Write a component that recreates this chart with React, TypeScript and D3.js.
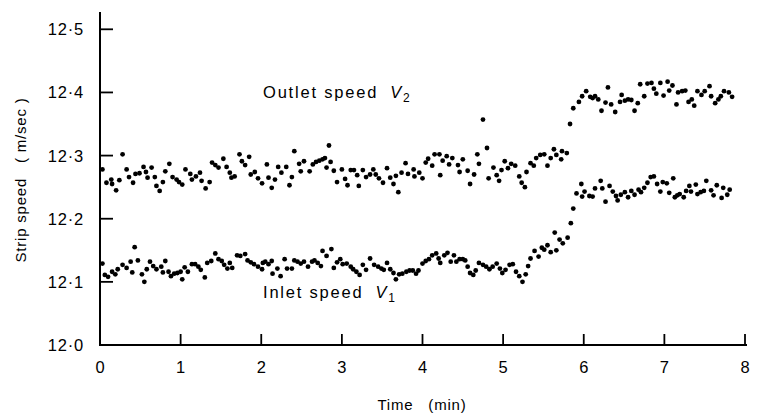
import React from "react";
import * as d3 from "d3";

// Outlet speed V2 (m/sec) against time (min)
const outletTime = [
  0.03, 0.08, 0.14, 0.15, 0.20, 0.24, 0.28, 0.33, 0.36, 0.41, 0.44, 0.49, 0.54, 0.57, 0.59, 0.64, 0.68, 0.70, 0.74, 0.78,
  0.81, 0.86, 0.90, 0.95, 0.98, 1.02, 1.06, 1.12, 1.14, 1.19, 1.24, 1.26, 1.31, 1.36, 1.39, 1.43, 1.47, 1.53, 1.57, 1.61,
  1.63, 1.67, 1.73, 1.76, 1.80, 1.85, 1.87, 1.92, 1.96, 2.01, 2.07, 2.09, 2.13, 2.17, 2.21, 2.25, 2.31, 2.35, 2.38, 2.41,
  2.47, 2.49, 2.53, 2.60, 2.64, 2.68, 2.72, 2.76, 2.79, 2.81, 2.84, 2.86, 2.90, 2.94, 3.00, 3.04, 3.07, 3.11, 3.15, 3.19,
  3.21, 3.26, 3.30, 3.35, 3.39, 3.42, 3.46, 3.51, 3.56, 3.60, 3.64, 3.67, 3.70, 3.74, 3.79, 3.82, 3.89, 3.90, 3.96, 4.00,
  4.04, 4.07, 4.12, 4.15, 4.21, 4.22, 4.25, 4.30, 4.33, 4.37, 4.44, 4.46, 4.50, 4.56, 4.59, 4.64, 4.68, 4.70, 4.75, 4.80,
  4.82, 4.88, 4.92, 4.95, 4.98, 5.02, 5.06, 5.10, 5.15, 5.20, 5.23, 5.27, 5.29, 5.34, 5.38, 5.41, 5.46, 5.51, 5.55, 5.59,
  5.63, 5.66, 5.72, 5.73, 5.79, 5.83, 5.87, 5.94, 5.98, 6.03, 6.08, 6.11, 6.14, 6.18, 6.22, 6.27, 6.30, 6.34, 6.39, 6.45,
  6.47, 6.51, 6.55, 6.59, 6.63, 6.67, 6.70, 6.75, 6.79, 6.84, 6.87, 6.90, 6.95, 6.99, 7.04, 7.06, 7.10, 7.15, 7.17, 7.22,
  7.26, 7.30, 7.34, 7.37, 7.41, 7.46, 7.50, 7.56, 7.58, 7.63, 7.67, 7.70, 7.74, 7.80, 7.84,
];
const outletSpeed = [
  12.278, 12.257, 12.262, 12.255, 12.245, 12.261, 12.302, 12.278, 12.266, 12.257, 12.271, 12.272, 12.282, 12.274, 12.265, 12.281, 12.266, 12.252, 12.244, 12.258,
  12.275, 12.287, 12.266, 12.262, 12.258, 12.254, 12.278, 12.271, 12.262, 12.267, 12.273, 12.260, 12.248, 12.258, 12.289, 12.285, 12.281, 12.295, 12.282, 12.273,
  12.265, 12.267, 12.302, 12.291, 12.285, 12.298, 12.270, 12.274, 12.264, 12.256, 12.286, 12.265, 12.249, 12.262, 12.282, 12.273, 12.282, 12.253, 12.266, 12.307,
  12.287, 12.275, 12.291, 12.275, 12.286, 12.290, 12.292, 12.294, 12.296, 12.281, 12.316, 12.290, 12.276, 12.258, 12.278, 12.263, 12.253, 12.277, 12.277, 12.269,
  12.252, 12.277, 12.266, 12.270, 12.278, 12.270, 12.264, 12.257, 12.280, 12.265, 12.255, 12.268, 12.242, 12.273, 12.288, 12.271, 12.278, 12.267, 12.273, 12.264,
  12.289, 12.295, 12.284, 12.302, 12.302, 12.269, 12.292, 12.299, 12.286, 12.296, 12.285, 12.274, 12.294, 12.276, 12.255, 12.270, 12.302, 12.287, 12.357, 12.312,
  12.264, 12.281, 12.269, 12.260, 12.277, 12.291, 12.280, 12.287, 12.284, 12.267, 12.257, 12.250, 12.274, 12.288, 12.284, 12.296, 12.301, 12.302, 12.284, 12.296,
  12.310, 12.301, 12.294, 12.307, 12.304, 12.350, 12.375, 12.385, 12.394, 12.402, 12.393, 12.391, 12.394, 12.389, 12.371, 12.384, 12.408, 12.381, 12.369, 12.385,
  12.396, 12.387, 12.389, 12.388, 12.371, 12.383, 12.413, 12.394, 12.414, 12.415, 12.406, 12.398, 12.415, 12.395, 12.417, 12.403, 12.411, 12.381, 12.400, 12.402,
  12.403, 12.385, 12.389, 12.379, 12.402, 12.396, 12.402, 12.410, 12.394, 12.383, 12.389, 12.394, 12.402, 12.400, 12.393,
];

// Inlet speed V1 (m/sec) against time (min)
const inletTime = [
  0.03, 0.06, 0.10, 0.15, 0.19, 0.22, 0.28, 0.33, 0.38, 0.40, 0.43, 0.47, 0.52, 0.55, 0.58, 0.62, 0.66, 0.70, 0.76, 0.78,
  0.81, 0.85, 0.88, 0.92, 0.96, 1.00, 1.02, 1.05, 1.09, 1.14, 1.18, 1.22, 1.25, 1.30, 1.33, 1.38, 1.43, 1.47, 1.51, 1.54,
  1.58, 1.61, 1.64, 1.70, 1.74, 1.80, 1.83, 1.87, 1.91, 1.96, 2.01, 2.02, 2.05, 2.09, 2.13, 2.14, 2.20, 2.24, 2.29, 2.32,
  2.38, 2.41, 2.45, 2.49, 2.53, 2.58, 2.63, 2.66, 2.70, 2.74, 2.76, 2.81, 2.87, 2.90, 2.94, 2.98, 3.01, 3.06, 3.11, 3.14,
  3.18, 3.22, 3.26, 3.30, 3.35, 3.40, 3.45, 3.49, 3.52, 3.56, 3.60, 3.64, 3.67, 3.71, 3.75, 3.80, 3.84, 3.88, 3.92, 3.95,
  4.00, 4.04, 4.08, 4.12, 4.17, 4.20, 4.22, 4.27, 4.31, 4.35, 4.39, 4.42, 4.46, 4.50, 4.53, 4.56, 4.59, 4.63, 4.66, 4.70,
  4.75, 4.79, 4.83, 4.87, 4.92, 4.96, 4.99, 5.03, 5.08, 5.12, 5.16, 5.20, 5.24, 5.28, 5.31, 5.34, 5.39, 5.44, 5.48, 5.51,
  5.55, 5.59, 5.64, 5.66, 5.70, 5.74, 5.80, 5.84, 5.87, 5.91, 5.97, 5.98, 6.01, 6.07, 6.11, 6.14, 6.21, 6.23, 6.27, 6.32,
  6.36, 6.40, 6.42, 6.46, 6.51, 6.55, 6.59, 6.63, 6.68, 6.71, 6.75, 6.79, 6.83, 6.87, 6.91, 6.95, 6.98, 7.03, 7.06, 7.11,
  7.13, 7.16, 7.19, 7.24, 7.27, 7.31, 7.33, 7.39, 7.41, 7.45, 7.49, 7.52, 7.58, 7.61, 7.65, 7.71, 7.73, 7.78, 7.81,
];
const inletSpeed = [
  12.129, 12.111, 12.108, 12.116, 12.112, 12.120, 12.127, 12.122, 12.132, 12.115, 12.155, 12.134, 12.112, 12.100, 12.120, 12.132, 12.125, 12.120, 12.124, 12.115,
  12.133, 12.116, 12.109, 12.113, 12.114, 12.116, 12.104, 12.123, 12.116, 12.128, 12.128, 12.124, 12.119, 12.107, 12.130, 12.133, 12.145, 12.136, 12.133, 12.127,
  12.121, 12.130, 12.122, 12.142, 12.141, 12.144, 12.134, 12.131, 12.128, 12.124, 12.120, 12.130, 12.132, 12.128, 12.133, 12.113, 12.121, 12.109, 12.136, 12.121,
  12.121, 12.134, 12.132, 12.129, 12.132, 12.124, 12.132, 12.134, 12.130, 12.125, 12.149, 12.141, 12.152, 12.122, 12.131, 12.136, 12.128, 12.129, 12.124, 12.120,
  12.116, 12.111, 12.127, 12.119, 12.137, 12.127, 12.124, 12.121, 12.119, 12.130, 12.120, 12.114, 12.104, 12.112, 12.113, 12.116, 12.118, 12.118, 12.113, 12.118,
  12.129, 12.133, 12.136, 12.142, 12.145, 12.137, 12.130, 12.142, 12.146, 12.132, 12.142, 12.132, 12.136, 12.136, 12.134, 12.124, 12.114, 12.111, 12.118, 12.130,
  12.127, 12.124, 12.120, 12.124, 12.129, 12.121, 12.114, 12.119, 12.127, 12.128, 12.116, 12.109, 12.100, 12.112, 12.125, 12.137, 12.149, 12.140, 12.154, 12.151,
  12.158, 12.147, 12.178, 12.150, 12.167, 12.161, 12.170, 12.193, 12.216, 12.240, 12.255, 12.235, 12.243, 12.236, 12.235, 12.248, 12.260, 12.248, 12.227, 12.252,
  12.243, 12.236, 12.229, 12.238, 12.242, 12.234, 12.244, 12.238, 12.246, 12.242, 12.249, 12.257, 12.266, 12.267, 12.255, 12.243, 12.258, 12.256, 12.241, 12.264,
  12.234, 12.237, 12.239, 12.234, 12.244, 12.252, 12.243, 12.254, 12.239, 12.242, 12.244, 12.260, 12.245, 12.237, 12.253, 12.233, 12.249, 12.238, 12.246,
];

const xTicks = [0, 1, 2, 3, 4, 5, 6, 7, 8];
const yTicks = [12.0, 12.1, 12.2, 12.3, 12.4, 12.5];
const yTickLabels = ["12·0", "12·1", "12·2", "12·3", "12·4", "12·5"];
const xTitle = "Time   (min)";
const yTitle = "Strip speed   ( m/sec )";
const outletLabel = "Outlet speed";
const inletLabel = "Inlet speed";

const W = 759;
const H = 418;
const FONT = "'Liberation Sans', Arial, sans-serif";

export default function App() {
  const x = d3.scaleLinear().domain([0, 8]).range([100, 745]);
  const y = d3.scaleLinear().domain([12.0, 12.5]).range([345, 29.3]);

  const outlet = outletTime.map((t, i) => ({ t, v: outletSpeed[i] }));
  const inlet = inletTime.map((t, i) => ({ t, v: inletSpeed[i] }));

  const x0 = x(0);
  const yBase = y(12.0);

  return (
    <svg
      width={W}
      height={H}
      viewBox={`0 0 ${W} ${H}`}
      style={{ position: "absolute", left: 0, top: 0, background: "#fff" }}
    >
      <rect x={0} y={0} width={W} height={H} fill="#fff" />
      {/* axes */}
      <line x1={x0} x2={x0} y1={12} y2={yBase} stroke="#000" strokeWidth={2} />
      <line x1={x0 - 1} x2={x(8) + 2} y1={yBase} y2={yBase} stroke="#000" strokeWidth={2} />

      {/* y ticks (inward) */}
      {yTicks.map((v, i) => (
        <g key={"yt" + i}>
          {i > 0 && (
            <line x1={x0} x2={x0 + 13} y1={y(v)} y2={y(v)} stroke="#000" strokeWidth={1.8} />
          )}
          <text
            x={x0 - 16}
            y={y(v)}
            dy="0.36em"
            textAnchor="end"
            fontFamily={FONT}
            fontSize={16.5}
            letterSpacing={0.8}
            fill="#000"
          >
            {yTickLabels[i]}
          </text>
        </g>
      ))}

      {/* x ticks (inward) */}
      {xTicks.map((v) => (
        <g key={"xt" + v}>
          {v > 0 && (
            <line x1={x(v)} x2={x(v)} y1={yBase} y2={yBase - 11} stroke="#000" strokeWidth={1.8} />
          )}
          <text
            x={x(v)}
            y={yBase + 28}
            textAnchor="middle"
            fontFamily={FONT}
            fontSize={16.5}
            fill="#000"
          >
            {v}
          </text>
        </g>
      ))}

      {/* axis titles */}
      <text
        x={422}
        y={410}
        textAnchor="middle"
        fontFamily={FONT}
        fontSize={15}
        letterSpacing={0.8}
        fill="#000"
        style={{ whiteSpace: "pre" }}
      >
        {xTitle}
      </text>
      <text
        transform={`translate(26, 180) rotate(-90)`}
        textAnchor="middle"
        fontFamily={FONT}
        fontSize={15}
        letterSpacing={0.8}
        fill="#000"
        style={{ whiteSpace: "pre" }}
      >
        {yTitle}
      </text>

      {/* series labels */}
      <text x={263} y={98} fontFamily={FONT} fontSize={16.5} letterSpacing={1.8} fill="#000">
        {outletLabel}
        <tspan dx={12} fontStyle="italic">V</tspan>
        <tspan dy={4} fontSize={12}>2</tspan>
      </text>
      <text x={263} y={298} fontFamily={FONT} fontSize={16.5} letterSpacing={1.8} fill="#000">
        {inletLabel}
        <tspan dx={12} fontStyle="italic">V</tspan>
        <tspan dy={4} fontSize={12}>1</tspan>
      </text>

      {/* data points */}
      {outlet.map((d, i) => (
        <circle key={"o" + i} cx={x(d.t)} cy={y(d.v)} r={2.4} fill="#000" />
      ))}
      {inlet.map((d, i) => (
        <circle key={"n" + i} cx={x(d.t)} cy={y(d.v)} r={2.4} fill="#000" />
      ))}
    </svg>
  );
}
